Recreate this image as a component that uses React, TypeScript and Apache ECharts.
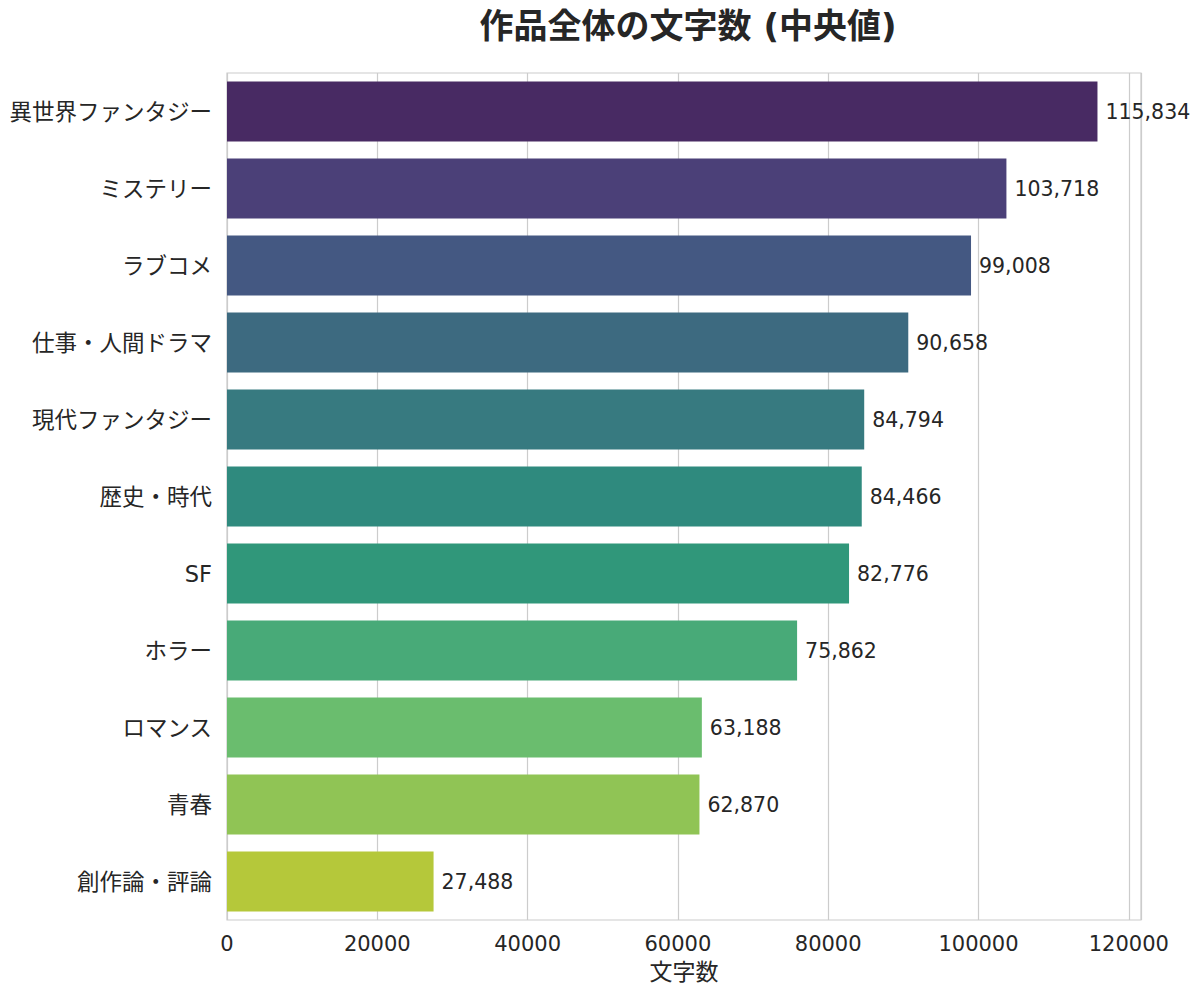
import React, { useEffect, useRef } from "react";
import * as echarts from "echarts";

const categories = [
  "異世界ファンタジー",
  "ミステリー",
  "ラブコメ",
  "仕事・人間ドラマ",
  "現代ファンタジー",
  "歴史・時代",
  "SF",
  "ホラー",
  "ロマンス",
  "青春",
  "創作論・評論",
];
const values = [115834, 103718, 99008, 90658, 84794, 84466, 82776, 75862, 63188, 62870, 27488];
const barColors = [
  "#482A63",
  "#4B4078",
  "#445882",
  "#3D6A80",
  "#377A80",
  "#2F8A7E",
  "#30977A",
  "#48AA78",
  "#6ABD6E",
  "#90C455",
  "#B5C83A",
];
const titleText = "作品全体の文字数 (中央値)";
const xAxisName = "文字数";

const FONT = '"DejaVu Sans", "Noto Sans CJK JP", sans-serif';

export default function App() {
  const ref = useRef<HTMLDivElement>(null);
  useEffect(() => {
    if (!ref.current) return;
    const chart = echarts.init(ref.current, undefined, { renderer: "svg" });
    chart.setOption({
      animation: false,
      backgroundColor: "#ffffff",
      textStyle: { fontFamily: FONT, color: "#262626" },
      title: {
        text: titleText,
        left: 683,
        textAlign: "center",
        top: 4,
        textStyle: { fontSize: 34, fontWeight: "bold", color: "#262626", fontFamily: FONT },
      },
      grid: {
        left: 227,
        right: 59,
        top: 73,
        bottom: 77,
        show: true,
        borderColor: "#cccccc",
        borderWidth: 1.2,
        backgroundColor: "transparent",
      },
      xAxis: {
        type: "value",
        min: 0,
        max: 121626,
        interval: 20000,
        name: xAxisName,
        nameLocation: "middle",
        nameGap: 40,
        nameTextStyle: { fontSize: 23, color: "#262626", fontFamily: FONT },
        axisLine: { show: false },
        axisTick: { show: false },
        axisLabel: {
          fontSize: 21,
          color: "#262626",
          margin: 13,
          showMaxLabel: false,
          fontFamily: FONT,
          formatter: (v: number) => String(v),
        },
        splitLine: { show: true, lineStyle: { color: "#cccccc", width: 1.2 } },
      },
      yAxis: {
        type: "category",
        data: categories,
        inverse: true,
        axisLine: { show: false },
        axisTick: { show: false },
        axisLabel: { fontSize: 22.5, color: "#262626", margin: 15, fontFamily: FONT },
        splitLine: { show: false },
      },
      series: [
        {
          type: "bar",
          data: values.map((v, i) => ({ value: v, itemStyle: { color: barColors[i] } })),
          barCategoryGap: "22%",
          label: {
            show: true,
            position: "right",
            distance: 8,
            fontSize: 20.5,
            color: "#262626",
            fontFamily: FONT,
            formatter: (p: any) => Number(p.value).toLocaleString("en-US"),
          },
        },
      ],
    });
    return () => chart.dispose();
  }, []);
  return (
    <div
      ref={ref}
      style={{ position: "absolute", left: 0, top: 0, width: 1200, height: 997 }}
    />
  );
}
